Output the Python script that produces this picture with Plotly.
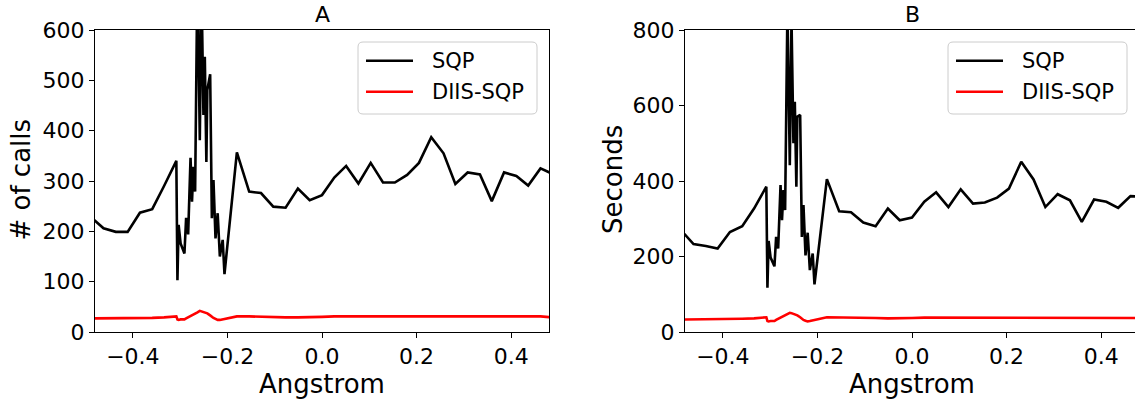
import plotly.graph_objects as go

# ---------------- data ----------------
x_left = [-0.488, -0.462, -0.436, -0.411, -0.385, -0.359, -0.334, -0.308]
x_spike = [-0.3057, -0.3032, -0.2990, -0.2909, -0.2873, -0.2830, -0.2780, -0.2749,
           -0.2718, -0.2683, -0.2634, -0.2584, -0.2548, -0.2507, -0.2478, -0.2445,
           -0.2425, -0.2365, -0.2329, -0.2295, -0.2252, -0.2206, -0.2160, -0.2100,
           -0.2062]
x_right = [-0.180, -0.154, -0.129, -0.103, -0.077, -0.051, -0.026, 0.000, 0.026,
           0.051, 0.077, 0.103, 0.129, 0.154, 0.180, 0.205, 0.231, 0.257, 0.282,
           0.308, 0.334, 0.359, 0.385, 0.411, 0.436, 0.462, 0.488]
angstrom = x_left + x_spike + x_right

calls_sqp = ([228, 206, 199, 199, 237, 244, 290, 340] +
             [103, 213, 176, 156, 227, 194, 346, 259, 328, 279, 720, 381, 690,
              431, 547, 338, 481, 512, 226, 302, 186, 236, 150, 183, 115] +
             [357, 279, 276, 249, 247, 285, 262, 272, 307, 330, 295, 336, 297,
              297, 312, 336, 387, 355, 294, 317, 313, 260, 317, 310, 291, 325, 314])
calls_diis = ([27, 27, 27, 28, 28, 28, 29, 31] +
              [25, 24, 25, 25, 27, 29, 31, 33, 35, 36, 39, 42, 41, 40, 39, 38, 37,
               33, 30, 28, 26, 24, 24, 25, 26] +
              [31, 31, 30, 29, 29, 29, 29, 30, 31, 31, 31, 31, 31, 31, 31, 31, 31,
               31, 31, 31, 31, 31, 31, 31, 31, 31, 29])

secs_sqp = ([269, 233, 228, 221, 265, 280, 327, 385] +
            [117, 241, 197, 174, 252, 221, 389, 296, 376, 323, 860, 442, 830,
             500, 610, 385, 570, 575, 252, 336, 203, 263, 164, 208, 126] +
            [405, 320, 317, 290, 280, 327, 296, 303, 345, 370, 331, 378, 340,
             343, 356, 380, 451, 404, 331, 365, 349, 292, 351, 345, 329, 360, 358])
secs_diis = ([33, 33, 33, 34, 34, 35, 36, 39] +
             [29, 28, 29, 29, 32, 35, 38, 41, 43, 45, 48, 51, 50, 48, 46, 45, 44,
              39, 35, 32, 30, 28, 29, 30, 32] +
             [39, 39, 38, 37, 37, 36, 36, 37, 38, 38, 38, 38, 38, 38, 38, 38, 38,
              38, 38, 38, 38, 38, 38, 38, 38, 37, 37])

series_names = ["SQP", "DIIS-SQP"]
panel_titles = ["A", "B"]
y_titles = ["# of calls", "Seconds"]
x_title = "Angstrom"
x_ticks = [-0.4, -0.2, 0.0, 0.2, 0.4]
yA_ticks = [0, 100, 200, 300, 400, 500, 600]
yB_ticks = [0, 200, 400, 600, 800]

# ---------------- layout helpers ----------------
W, H = 1135, 400
FONT = "DejaVu Sans"


def px(x):
    return x / W


def py(y):
    return 1 - y / H


COLORS = ["#000000", "#ff0000"]
LW = 2.6

fig = go.Figure()
fig.add_trace(go.Scatter(x=angstrom, y=calls_sqp, mode="lines", name=series_names[0],
                         line=dict(color=COLORS[0], width=LW), xaxis="x", yaxis="y",
                         showlegend=False))
fig.add_trace(go.Scatter(x=angstrom, y=calls_diis, mode="lines", name=series_names[1],
                         line=dict(color=COLORS[1], width=LW), xaxis="x", yaxis="y",
                         showlegend=False))
fig.add_trace(go.Scatter(x=angstrom, y=secs_sqp, mode="lines", name=series_names[0],
                         line=dict(color=COLORS[0], width=LW), xaxis="x2", yaxis="y2",
                         showlegend=False))
fig.add_trace(go.Scatter(x=angstrom, y=secs_diis, mode="lines", name=series_names[1],
                         line=dict(color=COLORS[1], width=LW), xaxis="x2", yaxis="y2",
                         showlegend=False))

tickfont = dict(family=FONT, size=22, color="black")
common_x = dict(tickvals=x_ticks, tickformat=".1f", ticks="outside", ticklen=5,
                tickwidth=1, tickcolor="black", showline=True, linecolor="black",
                linewidth=1, mirror=True, showgrid=False, zeroline=False,
                tickfont=tickfont, automargin=False)
common_y = dict(ticks="outside", ticklen=5, tickwidth=1, tickcolor="black",
                showline=True, linecolor="black", linewidth=1, showgrid=False,
                zeroline=False, tickfont=tickfont, automargin=False)

A_left, A_right = 95, 549
B_left = 685
top, bottom = 30, 332
xmin = -0.48
scale = (A_right - A_left) / 0.96  # px per Angstrom
B_xmax = xmin + (W - B_left) / scale

fig.update_layout(
    width=W, height=H, autosize=False,
    margin=dict(l=0, r=0, t=0, b=0, pad=0, autoexpand=False),
    paper_bgcolor="white", plot_bgcolor="white",
    showlegend=False,
    xaxis=dict(domain=[px(A_left), px(A_right)], range=[xmin, 0.48], anchor="y", **common_x),
    yaxis=dict(domain=[py(bottom), py(top)], range=[0, 600], tickvals=yA_ticks,
               anchor="x", mirror=True, **common_y),
    xaxis2=dict(domain=[px(B_left), 1.0], range=[xmin, B_xmax], anchor="y2", **common_x),
    yaxis2=dict(domain=[py(bottom), py(top)], range=[0, 800], tickvals=yB_ticks,
                anchor="x2", mirror=False, **common_y),
)

annotations = []
shapes = []
centers = [(A_left + A_right) / 2, B_left + (A_right - A_left) / 2]
ylab_x = [20.5, 613]
for i, c in enumerate(centers):
    annotations.append(dict(text=panel_titles[i], x=px(c), y=py(14.5), xref="paper", yref="paper",
                            xanchor="center", yanchor="middle", showarrow=False,
                            font=dict(family=FONT, size=22, color="black")))
    annotations.append(dict(text=x_title, x=px(c), y=py(384), xref="paper", yref="paper",
                            xanchor="center", yanchor="middle", showarrow=False,
                            font=dict(family=FONT, size=26, color="black")))
    annotations.append(dict(text=y_titles[i], x=px(ylab_x[i]), y=py(180), xref="paper", yref="paper",
                            xanchor="center", yanchor="middle", showarrow=False, textangle=-90,
                            font=dict(family=FONT, size=26, color="black")))


def rrect(x0, y0, x1, y1, r):
    return (f"M {px(x0 + r)},{py(y0)} L {px(x1 - r)},{py(y0)} "
            f"Q {px(x1)},{py(y0)} {px(x1)},{py(y0 + r)} L {px(x1)},{py(y1 - r)} "
            f"Q {px(x1)},{py(y1)} {px(x1 - r)},{py(y1)} L {px(x0 + r)},{py(y1)} "
            f"Q {px(x0)},{py(y1)} {px(x0)},{py(y1 - r)} L {px(x0)},{py(y0 + r)} "
            f"Q {px(x0)},{py(y0)} {px(x0 + r)},{py(y0)} Z")


# legends (one per panel)
for off in [0, B_left - A_left]:
    shapes.append(dict(type="path", path=rrect(358 + off, 42, 537 + off, 114, 5),
                       xref="paper", yref="paper", layer="above",
                       fillcolor="rgba(255,255,255,0.8)", line=dict(color="#cccccc", width=1)))
    for j, yy in enumerate([60.7, 91.7]):
        shapes.append(dict(type="line", x0=px(366 + off), x1=px(413 + off), y0=py(yy), y1=py(yy),
                           xref="paper", yref="paper", layer="above",
                           line=dict(color=COLORS[j], width=LW)))
        annotations.append(dict(text=series_names[j], x=px(430 + off), y=py(yy), xref="paper",
                                yref="paper", xanchor="left", yanchor="middle", showarrow=False,
                                font=dict(family=FONT, size=21, color="black")))

fig.update_layout(annotations=annotations, shapes=shapes)
fig.write_html("out.html",
               config={"displayModeBar": False, "staticPlot": True},
               post_script="document.body.style.margin='0';document.body.style.overflow='hidden';")
